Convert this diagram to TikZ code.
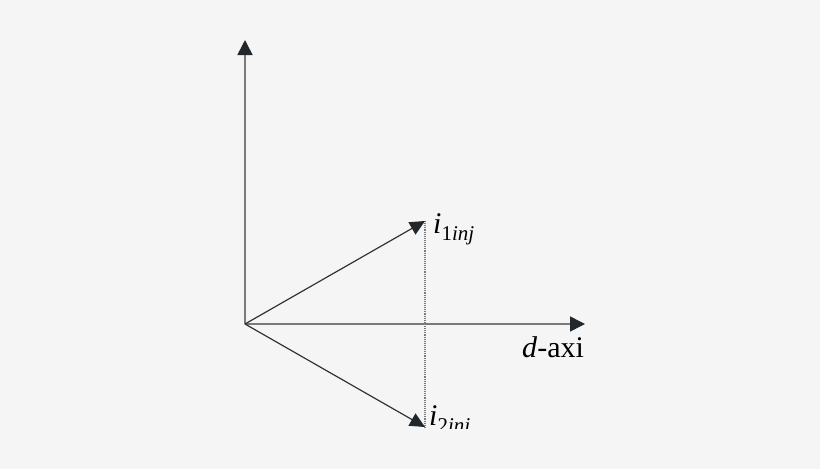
\documentclass[tikz,border=0pt]{standalone}
\usepackage{fontspec}
\setmainfont{Liberation Serif}
\usetikzlibrary{positioning, arrows.meta}

\definecolor{bgcol}{HTML}{F5F5F5}
\definecolor{axiscol}{HTML}{7A7A7A}
\definecolor{veccol}{HTML}{333333}
\definecolor{tipcol}{HTML}{22272B}

\tikzset{
    axis/.style={draw=axiscol, line width=1.6pt, -{Triangle[length=15pt, width=15pt, color=tipcol, fill=tipcol]}},
    vector/.style={draw=veccol, line width=1.2pt, -{Triangle[length=15pt, width=14pt, color=tipcol, fill=tipcol]}},
    proj/.style={draw=axiscol, line width=1.1pt, densely dotted},
    lbl/.style={inner sep=0pt, anchor=base west, font=\fontsize{30}{31}\selectfont}
}

\newcommand{\sublbl}[2]{\textit{#1}\raisebox{-7pt}{\fontsize{21}{22}\selectfont #2\textit{inj}}}

\begin{document}
\begin{tikzpicture}[x=1pt, y=-1pt]

    \fill[bgcol] (0,0) rectangle (820,469);
    \useasboundingbox (0,0) rectangle (820,469);

    \begin{scope}
    \clip (0,0) rectangle (820,428);

    \coordinate (o) at (245,324);
    \coordinate (qtop) at (245,40);
    \coordinate (dend) at (585,324);
    \coordinate (ione) at (425,221);
    \coordinate (itwo) at (425,427);

    \draw[proj] (ione) -- (itwo);
    \draw[axis] (o) -- (qtop);
    \draw[axis] (o) -- (dend);
    \draw[vector] (o) -- (ione);
    \draw[vector] (o) -- (itwo);

    \node[lbl] (ionelbl) at (433,233) {\sublbl{i}{1}};
    \node[lbl] (itwolbl) at (429,425) {\sublbl{i}{2}};
    \node[lbl] (dlbl) at (522,357) {\textit{d}-axi};
    \end{scope}

\end{tikzpicture}
\end{document}
